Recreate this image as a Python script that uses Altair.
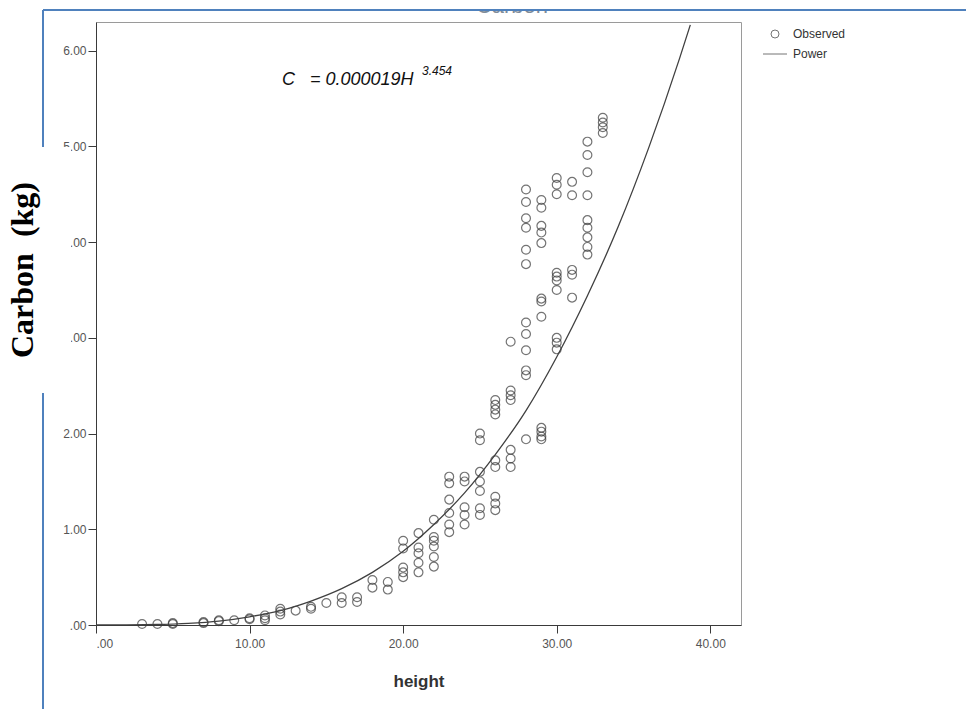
import altair as alt
import pandas as pd

# Observed points (height, carbon)
obs_height = (
    [3, 4, 5, 5, 7, 7, 8, 8, 9, 10, 10, 11, 11, 11, 12, 12, 12, 13, 14, 14, 15, 16, 16, 17, 17,
     18, 18, 19, 19]
    + [20] * 5 + [21] * 5 + [22] * 6 + [23] * 6 + [24] * 5 + [25] * 7 + [26] * 9 + [27] * 7
    + [28] * 12 + [29] * 12 + [30] * 10 + [31] * 5 + [32] * 9 + [33] * 4
)
obs_carbon = (
    [0.01, 0.01, 0.02, 0.01, 0.03, 0.02, 0.05, 0.04, 0.05, 0.07, 0.06, 0.10, 0.07, 0.05,
     0.17, 0.14, 0.11, 0.15, 0.19, 0.17, 0.23, 0.29, 0.23, 0.29, 0.24, 0.47, 0.39, 0.45, 0.37]
    + [0.88, 0.80, 0.60, 0.55, 0.50]
    + [0.96, 0.81, 0.75, 0.65, 0.55]
    + [1.10, 0.92, 0.88, 0.82, 0.71, 0.61]
    + [1.55, 1.48, 1.31, 1.17, 1.05, 0.97]
    + [1.55, 1.50, 1.23, 1.15, 1.05]
    + [2.00, 1.93, 1.60, 1.50, 1.40, 1.22, 1.15]
    + [2.35, 2.30, 2.25, 2.20, 1.72, 1.65, 1.34, 1.27, 1.20]
    + [2.96, 2.45, 2.40, 2.35, 1.83, 1.74, 1.65]
    + [4.55, 4.42, 4.25, 4.15, 3.92, 3.77, 3.16, 3.04, 2.87, 2.66, 2.61, 1.94]
    + [4.44, 4.36, 4.17, 4.10, 3.99, 3.41, 3.38, 3.22, 2.06, 2.02, 1.97, 1.94]
    + [4.67, 4.60, 4.50, 3.68, 3.64, 3.60, 3.50, 3.00, 2.95, 2.88]
    + [4.63, 4.49, 3.71, 3.66, 3.42]
    + [5.05, 4.91, 4.73, 4.49, 4.23, 4.15, 4.05, 3.95, 3.87]
    + [5.30, 5.25, 5.20, 5.14]
)

# Fitted power curve
fit_height = [0, 2, 4, 6, 8, 10, 12, 14, 16, 18, 20, 22, 24, 26, 28, 30, 32, 34, 36, 38, 38.7]
fit_carbon = [0.0, 0.001, 0.005, 0.017, 0.041, 0.086, 0.15, 0.25, 0.38, 0.55, 0.77, 1.05,
              1.38, 1.78, 2.24, 2.80, 3.44, 4.16, 4.99, 5.92, 6.27]

x_ticks = [0, 10, 20, 30, 40]
y_ticks = [0, 1, 2, 3, 4, 5, 6]
series_names = ["Observed", "Power"]

obs = pd.DataFrame({"height": obs_height, "carbon": obs_carbon, "series": "Observed"})
fit = pd.DataFrame({"height": fit_height, "carbon": fit_carbon, "series": "Power"})
one = pd.DataFrame({"k": [0]})

NB = "\u00a0"
fmt = "datum.value == 0 ? '.00' : format(datum.value, '.2f')"
x_scale = alt.Scale(domain=[0, 42], nice=False, zero=False)
y_scale = alt.Scale(domain=[0, 6.3], nice=False, zero=False)

common_axis = dict(
    grid=False, labelExpr=fmt, tickSize=8, labelFont="Liberation Sans", labelFontSize=12,
    labelColor="#555555", domainColor="#3a3a3a", tickColor="#3a3a3a",
)
x_axis = alt.Axis(values=x_ticks, title="height", labelPadding=5, titleFont="Liberation Sans",
                  titleFontSize=17, titleFontWeight="bold", titleColor="#333333",
                  titleY=61, titleBaseline="alphabetic", **common_axis)
y_axis = alt.Axis(values=y_ticks, title=None, labelPadding=2, **common_axis)

top_title = alt.Chart(one).mark_text(
    text="Carbon", font="Liberation Sans", fontSize=22, color="#7f8c99",
    baseline="alphabetic", align="center"
).encode(x=alt.value(416), y=alt.value(-9))

top_mask = alt.Chart(one).mark_rect(color="white").encode(
    x=alt.value(-96), x2=alt.value(870), y=alt.value(-22), y2=alt.value(-12))

blue_top = alt.Chart(one).mark_rule(color="#4f81bd", strokeWidth=2).encode(
    x=alt.value(-53), x2=alt.value(870), y=alt.value(-12))
blue_left = alt.Chart(one).mark_rule(color="#4f81bd", strokeWidth=2).encode(
    x=alt.value(-53), y=alt.value(-12), y2=alt.value(687))

points = alt.Chart(obs).mark_point(filled=False, size=78, strokeWidth=1.2, color="#3a3a3a").encode(
    x=alt.X("height:Q", scale=x_scale, axis=x_axis),
    y=alt.Y("carbon:Q", scale=y_scale, axis=y_axis),
    shape=alt.Shape(
        "series:N",
        scale=alt.Scale(domain=series_names, range=["circle", "M-3,0H3"]),
        legend=alt.Legend(
            title=None, orient="none", legendX=673, legendY=6,
            labelFont="Liberation Sans", labelFontSize=12, labelColor="#333333",
            symbolSize=64, symbolStrokeWidth=1, symbolStrokeColor="#3a3a3a",
            symbolFillColor="transparent", labelOffset=12, rowPadding=8,
        ),
    ),
)

line = alt.Chart(fit).mark_line(color="#404040", strokeWidth=1.3, interpolate="monotone",
                                clip=True).encode(
    x=alt.X("height:Q", scale=x_scale),
    y=alt.Y("carbon:Q", scale=y_scale),
)

eq_main = alt.Chart(one).mark_text(
    text=f"C{NB}{NB}{NB}= 0.000019H", font="Liberation Sans", fontStyle="italic", fontSize=18,
    color="#111111", align="left", baseline="alphabetic"
).encode(x=alt.value(186), y=alt.value(63))
eq_sup = alt.Chart(one).mark_text(
    text="3.454", font="Liberation Sans", fontStyle="italic", fontSize=12,
    color="#111111", align="left", baseline="alphabetic"
).encode(x=alt.value(326), y=alt.value(53))

label_mask = alt.Chart(one).mark_rect(color="white").encode(
    x=alt.value(-96), x2=alt.value(-25), y=alt.value(125), y2=alt.value(371))

y_label = alt.Chart(one).mark_text(
    text=f"Carbon{NB}{NB}(kg)", font="Liberation Serif", fontWeight="bold", fontSize=32,
    color="#000000", angle=270, align="center", baseline="alphabetic"
).encode(x=alt.value(-63), y=alt.value(248))

chart = alt.layer(
    top_title, top_mask, blue_top, blue_left, points, line, eq_main, eq_sup, label_mask, y_label
).properties(
    width=645, height=603,
    autosize=alt.AutoSizeParams(type="none"),
    padding={"left": 96, "top": 22, "right": 225, "bottom": 84},
    background="white",
).configure_view(stroke="#9a9a9a", strokeWidth=1)

chart.save("out.html", embed_options={"renderer": "svg", "actions": False})
